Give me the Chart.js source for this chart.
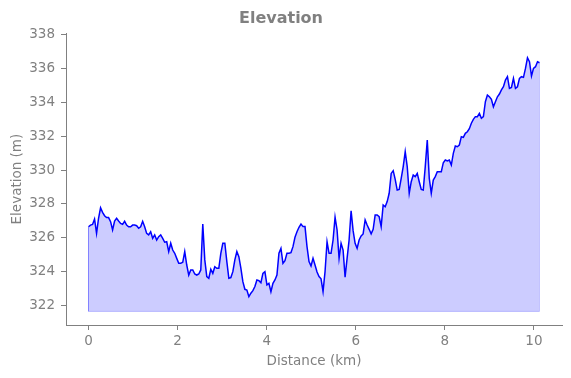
<!DOCTYPE html>
<html>
<head>
<meta charset="utf-8">
<title>Elevation</title>
<script src="https://cdn.jsdelivr.net/npm/chart.js@4.4.1/dist/chart.umd.min.js"></script>
<style>
  html, body { margin: 0; padding: 0; background: #fff; }
  #wrap { width: 571px; height: 378px; }
</style>
</head>
<body>
<div id="wrap"><canvas id="elevationChart" width="571" height="378"></canvas></div>
<script>
// samples every 0.045 km along the track
const sampleStepKm = 0.045;
const elevation = [
  326.66, 326.76, 326.80, 327.12, 326.27, 327.16, 327.78, 327.51, 327.31, 327.20,
  327.20, 326.96, 326.47, 327.00, 327.16, 327.00, 326.86, 326.80, 326.98, 326.76,
  326.66, 326.66, 326.76, 326.76, 326.72, 326.57, 326.66, 326.98, 326.66, 326.27,
  326.18, 326.37, 325.98, 326.18, 325.88, 326.08, 326.18, 325.98,
  325.75, 325.78, 325.20, 325.69, 325.29, 325.10, 324.80, 324.51, 324.51, 324.57,
  325.20, 324.41, 323.82, 324.12, 324.12, 323.88, 323.82, 323.88, 324.12, 326.82,
  324.71, 323.73, 323.63, 324.16, 323.92, 324.31, 324.22, 324.22, 325.10, 325.69,
  325.69, 324.61, 323.63, 323.67, 324.02, 324.71, 325.20, 324.90,
  324.22, 323.43, 322.98, 322.94, 322.55, 322.75, 322.90, 323.14, 323.53, 323.49,
  323.37, 323.92, 324.02, 323.24, 323.33, 322.84, 323.33, 323.53, 323.82, 325.10,
  325.39, 324.51, 324.67, 325.10, 325.10, 325.14, 325.49, 326.04, 326.37, 326.63,
  326.82, 326.67, 326.67, 325.49, 324.61, 324.35, 324.80, 324.41,
  324.00, 323.73, 323.60, 322.85, 324.02, 325.78, 325.10, 325.10, 325.88, 327.22,
  326.47, 324.80, 325.69, 325.29, 323.70, 324.80, 325.88, 327.60, 326.43, 325.69,
  325.39, 325.88, 326.12, 326.24, 327.06, 326.76, 326.51, 326.24, 326.51, 327.35,
  327.35, 327.25, 326.67, 327.94, 327.84, 328.14, 328.63, 329.80, 329.96,
  329.45, 328.82, 328.86, 329.51, 330.20, 331.08, 330.20, 328.63, 329.31, 329.70,
  329.61, 329.80, 329.31, 328.86, 328.82, 330.20, 331.76, 329.51, 328.63, 329.41,
  329.61, 329.90, 329.90, 329.90, 330.43, 330.59, 330.53, 330.59, 330.29, 330.98,
  331.41, 331.37, 331.47, 331.96, 331.92, 332.16, 332.25,
  332.43, 332.75, 332.98, 333.14, 333.14, 333.33, 333.04, 333.14, 334.02, 334.41,
  334.31, 334.16, 333.72, 334.02, 334.31, 334.47, 334.71, 334.90, 335.29, 335.49,
  334.80, 334.86, 335.39, 334.80, 334.90, 335.39, 335.49, 335.45, 335.98, 336.60,
  336.37, 335.53, 335.98, 336.08, 336.37, 336.31,
];
const fillBase = 321.68;
const xTicks = [0, 2, 4, 6, 8, 10];
const yTicks = [322, 324, 326, 328, 330, 332, 334, 336, 338];

const GRAY = "#808080";
const FONT = "DejaVu Sans";

const points = elevation.map((e, i) => ({ x: i * sampleStepKm, y: e }));
const first = points[0];
const last = points[points.length - 1];

// faint edge of the filled polygon (left, bottom, right)
const outline = [
  { x: first.x, y: first.y },
  { x: first.x, y: fillBase },
  { x: last.x, y: fillBase },
  { x: last.x, y: last.y },
];

function fixedTicks(values) {
  return (scale) => {
    scale.ticks = values.map((v) => ({ value: v }));
  };
}

new Chart(document.getElementById("elevationChart"), {
  type: "line",
  data: {
    datasets: [
      {
        label: "Elevation",
        data: points,
        borderColor: "#0000ff",
        borderWidth: 1.5,
        backgroundColor: "rgba(0, 0, 255, 0.2)",
        fill: { value: fillBase },
        pointRadius: 0,
        tension: 0,
        order: 0,
      },
      {
        label: "edge",
        data: outline,
        borderColor: "rgba(0, 0, 255, 0.2)",
        borderWidth: 1,
        fill: false,
        pointRadius: 0,
        tension: 0,
        order: 1,
      },
    ],
  },
  options: {
    responsive: false,
    animation: false,
    layout: { padding: { left: 0, right: 9, top: 0, bottom: 0 } },
    plugins: {
      legend: { display: false },
      tooltip: { enabled: false },
      title: {
        display: true,
        text: "Elevation",
        color: GRAY,
        font: { family: FONT, size: 16, weight: "bold" },
        padding: { top: 9, bottom: 5 },
      },
    },
    scales: {
      x: {
        type: "linear",
        min: -0.506,
        max: 10.63,
        afterBuildTicks: fixedTicks(xTicks),
        afterFit: (scale) => { scale.height = 53; },
        border: { display: true, color: GRAY, width: 1 },
        grid: { drawOnChartArea: false, tickLength: 5, tickColor: GRAY },
        ticks: { color: GRAY, font: { family: FONT, size: 13.5 }, padding: 3, maxRotation: 0 },
        title: {
          display: true,
          text: "Distance (km)",
          color: GRAY,
          font: { family: FONT, size: 13.5 },
          padding: { top: 0, bottom: 8 },
        },
      },
      y: {
        type: "linear",
        min: 320.88,
        max: 338.05,
        afterBuildTicks: fixedTicks(yTicks),
        afterFit: (scale) => { scale.width = 66; },
        border: { display: true, color: GRAY, width: 1 },
        grid: { drawOnChartArea: false, tickLength: 5, tickColor: GRAY },
        ticks: { color: GRAY, font: { family: FONT, size: 13.5 }, padding: 6 },
        title: {
          display: true,
          text: "Elevation (m)",
          color: GRAY,
          font: { family: FONT, size: 13.5 },
          padding: { top: 9, bottom: 0 },
        },
      },
    },
  },
});
</script>
</body>
</html>
